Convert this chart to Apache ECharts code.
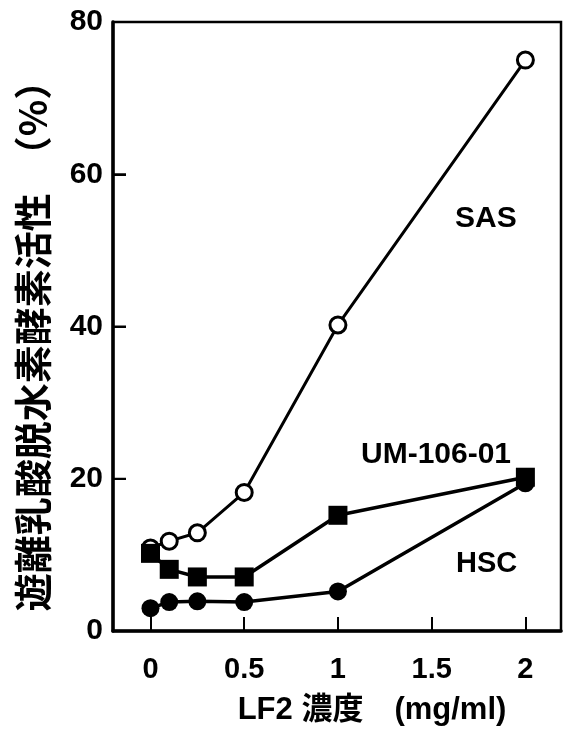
<!DOCTYPE html>
<html>
<head>
<meta charset="utf-8">
<style>
  html, body { margin: 0; padding: 0; background: #fff; }
  #chart { width: 563px; height: 732px; }
</style>
<script src="https://cdn.jsdelivr.net/npm/echarts@6.0.0/dist/echarts.min.js"></script>
</head>
<body>
<div id="chart"></div>
<script>
// LF2 concentration (mg/ml)
const concentration = [0, 0.1, 0.25, 0.5, 1, 2];
// Released LDH activity (%) for each cell line
const sasValues = [10.9, 11.8, 12.9, 18.2, 40.2, 75.0];
const umValues  = [10.2, 8.1, 7.1, 7.1, 15.2, 20.2];
const hscValues = [3.0, 3.8, 3.9, 3.8, 5.2, 19.4];

const xTicks = [0, 0.5, 1, 1.5, 2];
const yTicks = [0, 20, 40, 60, 80];

const seriesNames = ['SAS', 'UM-106-01', 'HSC'];
const xTitle = 'LF2 濃度\u3000(mg/ml)';
const yTitle = '遊離乳酸脱水素酵素活性\u3000（%）';

const FONT = "'Liberation Sans', Arial, 'Noto Sans CJK JP', sans-serif";
const X_MIN = -0.2, X_MAX = 2.19;
const TICK_LEN = 13;

function pairs(xs, ys) { return xs.map((x, i) => [x, ys[i]]); }

const chart = echarts.init(document.getElementById('chart'), null, { renderer: 'canvas' });

chart.setOption({
  backgroundColor: '#fff',
  animation: false,
  grid: {
    left: 113, right: 2, top: 22, bottom: 101,
    show: true, borderColor: '#000', borderWidth: 2.5, backgroundColor: 'transparent'
  },
  xAxis: {
    type: 'value',
    min: X_MIN, max: X_MAX,
    axisLine: { show: true, onZero: false, lineStyle: { color: '#000', width: 3.5 } },
    axisTick: { show: true, inside: true, length: 14, customValues: xTicks, lineStyle: { color: '#000', width: 2 } },
    axisLabel: {
      customValues: xTicks, margin: 24,
      color: '#000', fontFamily: FONT, fontWeight: 'bold', fontSize: 29
    },
    splitLine: { show: false },
    name: xTitle,
    nameLocation: 'middle',
    nameGap: 64,
    nameTextStyle: {
      color: '#000', fontFamily: FONT, fontWeight: 'bold', fontSize: 31,
      padding: [0, 0, 0, 70]
    }
  },
  yAxis: {
    type: 'value',
    min: yTicks[0], max: yTicks[yTicks.length - 1], interval: yTicks[1] - yTicks[0],
    axisLine: { show: true, onZero: false, lineStyle: { color: '#000', width: 3.5 } },
    axisTick: { show: true, inside: true, length: TICK_LEN, lineStyle: { color: '#000', width: 2 } },
    axisLabel: {
      margin: 10,
      color: '#000', fontFamily: FONT, fontWeight: 'bold', fontSize: 30
    },
    splitLine: { show: false },
    name: yTitle,
    nameLocation: 'middle',
    nameGap: 61,
    nameTextStyle: {
      color: '#000', fontFamily: "'Noto Sans CJK JP', sans-serif", fontWeight: 'bold', fontSize: 38,
      padding: [0, 20, 0, 0]
    }
  },
  series: [
    {
      // inward tick marks on the left axis
      type: 'custom', z: 1, silent: true,
      data: yTicks.map(v => [X_MIN, v]),
      renderItem: function (params, api) {
        const p = api.coord([api.value(0), api.value(1)]);
        return {
          type: 'line',
          shape: { x1: p[0], y1: p[1], x2: p[0] + TICK_LEN, y2: p[1] },
          style: { stroke: '#000', lineWidth: 2 }
        };
      }
    },
    {
      name: seriesNames[0], type: 'line', z: 2,
      data: pairs(concentration, sasValues),
      symbol: 'circle', symbolSize: 16,
      lineStyle: { color: '#000', width: 3 },
      itemStyle: { color: '#fff', borderColor: '#000', borderWidth: 3 }
    },
    {
      name: seriesNames[2], type: 'line', z: 3,
      data: pairs(concentration, hscValues),
      symbol: 'circle', symbolSize: 18,
      lineStyle: { color: '#000', width: 3.5 },
      itemStyle: { color: '#000', borderColor: '#000', borderWidth: 0 }
    },
    {
      name: seriesNames[1], type: 'line', z: 4,
      data: pairs(concentration, umValues),
      symbol: 'rect', symbolSize: 19,
      lineStyle: { color: '#000', width: 3.5 },
      itemStyle: { color: '#000', borderColor: '#000', borderWidth: 0 }
    }
  ],
  graphic: [
    { type: 'text', left: 455, top: 204, style: { text: seriesNames[0], fill: '#000', font: "bold 30px " + FONT } },
    { type: 'text', left: 361, top: 440, style: { text: seriesNames[1], fill: '#000', font: "bold 30px " + FONT } },
    { type: 'text', left: 456, top: 549, style: { text: seriesNames[2], fill: '#000', font: "bold 29px " + FONT } }
  ]
});
</script>
</body>
</html>
